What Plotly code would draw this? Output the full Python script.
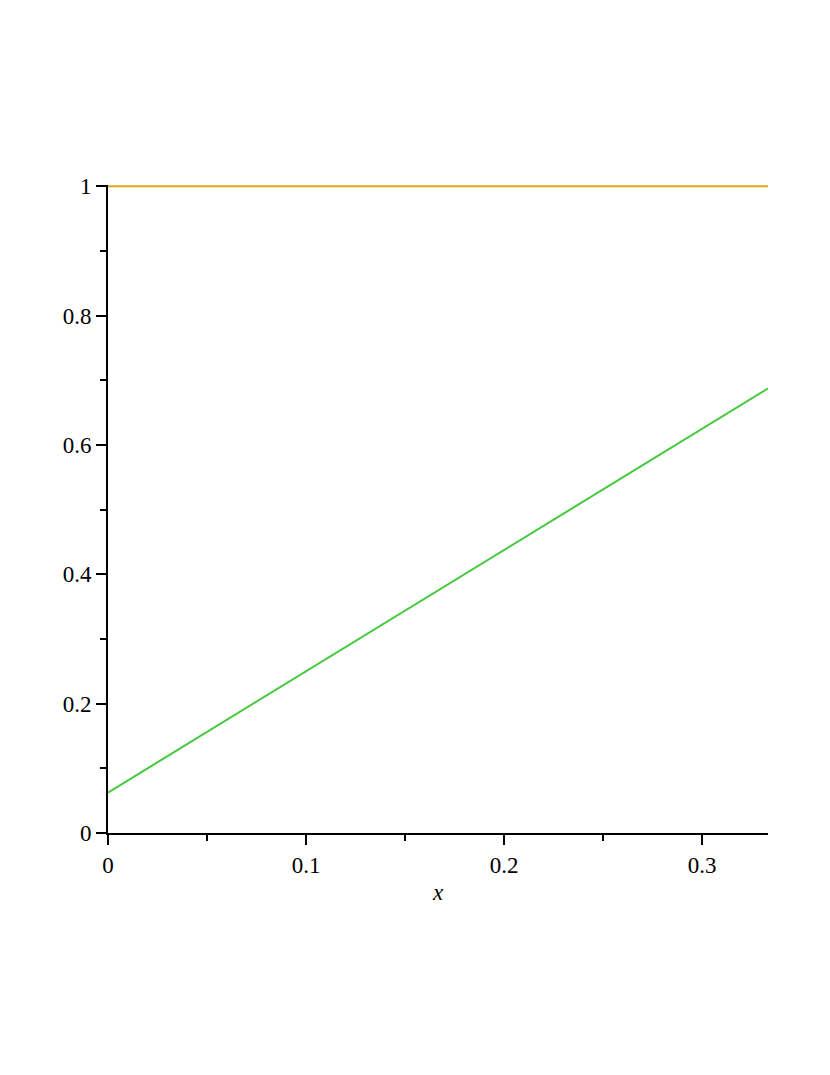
import plotly.graph_objects as go

x_vals = [0.0, 1/3]
orange_vals = [1.0, 1.0]
green_vals = [0.0625, 0.6875]
x_ticks = [0, 0.1, 0.2, 0.3]
x_tick_labels = ["0", "0.1", "0.2", "0.3"]
y_ticks = [0, 0.2, 0.4, 0.6, 0.8, 1]
y_tick_labels = ["0", "0.2", "0.4", "0.6", "0.8", "1"]

fig = go.Figure()
fig.add_trace(go.Scatter(x=x_vals, y=orange_vals, mode="lines",
                         line=dict(color="#DAA520", width=2), showlegend=False))
fig.add_trace(go.Scatter(x=x_vals, y=green_vals, mode="lines",
                         line=dict(color="#44C83C", width=2), showlegend=False))

font = dict(family="Liberation Serif", size=23, color="black")

fig.update_layout(
    width=822, height=1067,
    margin=dict(l=100, r=62, t=177, b=242),
    paper_bgcolor="white", plot_bgcolor="white",
    font=font,
    xaxis=dict(range=[0, 1/3], tickvals=x_ticks, ticktext=x_tick_labels, tickfont=font,
               showgrid=False, zeroline=False, showline=True, linecolor="black",
               linewidth=2, ticks="outside", ticklen=10, tickwidth=2, tickcolor="black",
               minor=dict(dtick=0.05, tick0=0, ticks="outside", ticklen=6, tickwidth=2, tickcolor="black", showgrid=False),
               title=dict(text="<i>x</i>", font=font, standoff=7)),
    yaxis=dict(range=[0, 1.002], tickvals=y_ticks, ticktext=y_tick_labels, tickfont=font,
               showgrid=False, zeroline=False, showline=True, linecolor="black",
               linewidth=2, ticks="outside", ticklen=10, tickwidth=2, tickcolor="black",
               minor=dict(dtick=0.1, tick0=0, ticks="outside", ticklen=6, tickwidth=2, tickcolor="black", showgrid=False)),
)

fig.write_html("out.html")
